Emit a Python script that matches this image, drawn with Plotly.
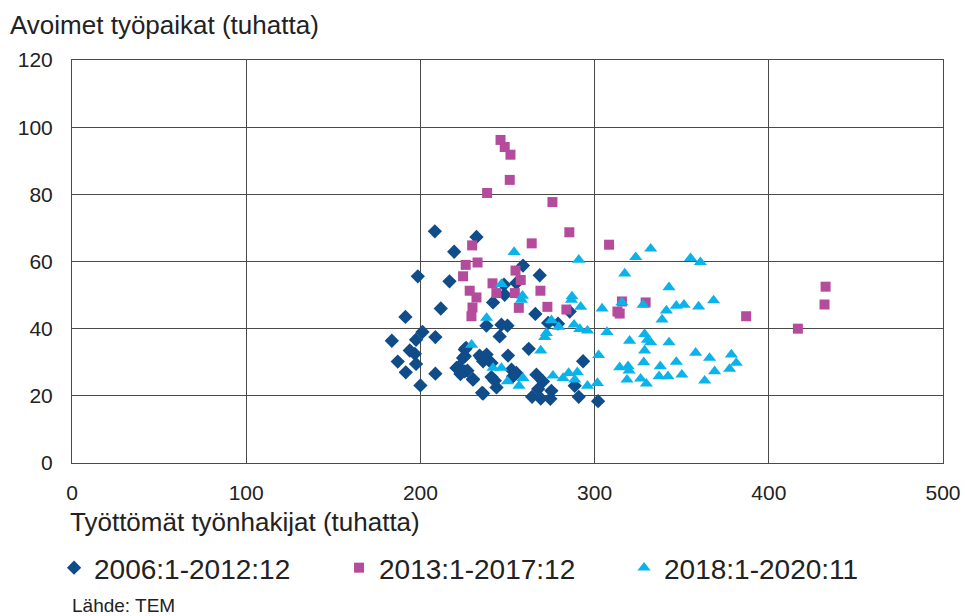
import plotly.graph_objects as go

# ------------------------------------------------------------------ #
# Data (thousands): unemployed job seekers (x) vs open vacancies (y)
# ------------------------------------------------------------------ #
P1_NAME = "2006:1-2012:12"
P1_X = [208.3, 232.2, 219.4, 198.5, 216.7, 211.7, 191.4, 201.2, 183.6, 197.5,
        208.6, 193.9, 196.8, 187.0, 197.5, 191.6, 208.6, 200.0, 226.2, 225.5,
        220.7, 225.5, 230.2, 235.0, 235.4, 238.0, 241.7, 266.0, 237.9, 246.5,
        250.0, 273.3, 279.0, 285.7, 245.5, 262.2, 250.3, 234.0, 236.0, 240.8,
        225.5, 224.5, 222.0, 227.0, 223.0, 230.2, 240.8, 242.7, 243.7, 236.0,
        252.3, 255.1, 253.2, 266.6, 270.4, 267.6, 275.2, 264.1, 269.1, 274.6,
        290.9, 293.4, 288.6, 258.9, 268.5, 248.0, 255.1, 248.4, 302.0]
P1_Y = [69.0, 67.3, 62.9, 55.6, 54.1, 46.0, 43.5, 39.0, 36.4, 36.7,
        37.5, 33.5, 32.5, 30.2, 29.5, 27.0, 26.6, 23.1, 34.3, 31.8,
        28.3, 27.3, 24.8, 31.3, 20.9, 32.3, 47.8, 44.4, 40.9, 41.2,
        40.9, 41.7, 41.5, 45.1, 37.7, 34.0, 32.0, 32.0, 30.3, 29.8,
        33.8, 31.3, 28.6, 27.5, 26.5, 25.0, 25.6, 24.5, 22.5, 20.7,
        27.8, 26.8, 25.8, 26.3, 24.3, 22.0, 21.5, 19.7, 19.2, 19.1,
        19.7, 30.3, 23.0, 58.8, 55.9, 53.1, 53.6, 50.1, 18.4]

P2_NAME = "2013:1-2017:12"
P2_X = [229.7, 232.8, 226.0, 224.5, 228.3, 232.2, 229.9, 229.3, 246.0, 248.4,
        251.7, 251.3, 238.3, 275.8, 285.5, 263.9, 308.3, 254.6, 257.6, 241.4,
        243.6, 254.2, 268.9, 315.7, 329.3, 313.1, 314.4, 387.0, 416.7, 432.6,
        432.0, 256.5, 272.9, 283.8]
P2_Y = [64.8, 59.7, 59.0, 55.6, 51.3, 49.3, 46.3, 43.7, 96.2, 94.1,
        91.8, 84.3, 80.4, 77.7, 68.7, 65.4, 65.0, 57.3, 54.5, 53.5,
        50.6, 50.6, 51.3, 48.1, 47.8, 45.1, 44.5, 43.7, 40.0, 52.5,
        47.2, 46.2, 46.5, 45.7]

P3_NAME = "2018:1-2020:11"
P3_X = [238.0, 229.4, 258.0, 275.2, 279.4, 272.3, 271.4, 288.2, 291.5, 286.7,
        292.0, 269.1, 241.7, 246.5, 250.0, 258.9, 256.6, 276.1, 281.9, 285.1,
        290.1, 288.6, 253.8, 290.9, 246.5, 258.6, 287.0, 332.2, 323.6, 355.1,
        360.7, 317.3, 342.7, 315.7, 327.8, 346.9, 351.3, 359.7, 368.3, 341.2,
        338.7, 304.3, 295.9, 307.1, 328.7, 330.3, 332.2, 320.1, 342.7, 328.7,
        302.3, 358.0, 366.0, 328.2, 314.4, 319.2, 319.8, 337.7, 346.9, 368.9,
        318.6, 326.4, 337.0, 342.1, 350.1, 329.7, 363.2, 295.9, 301.6, 378.5,
        381.3, 377.5]
P3_Y = [43.2, 35.2, 48.6, 42.5, 40.5, 38.7, 37.5, 41.2, 39.9, 48.6,
        46.5, 33.5, 28.3, 28.3, 24.3, 25.3, 23.0, 26.0, 25.3, 26.8,
        27.0, 24.8, 62.8, 60.5, 53.3, 49.8, 49.6, 63.8, 61.3, 61.0,
        59.8, 56.4, 52.3, 47.8, 47.1, 46.8, 47.1, 46.6, 48.4, 45.4,
        42.7, 46.0, 39.4, 39.0, 38.4, 36.7, 35.9, 36.4, 35.9, 33.5,
        32.1, 32.8, 31.3, 30.0, 28.5, 28.8, 27.5, 28.8, 30.1, 27.3,
        24.8, 25.1, 25.8, 25.8, 26.3, 23.6, 24.5, 23.0, 23.8, 32.3,
        29.8, 28.0]

X_TICKS = [0, 100, 200, 300, 400, 500]
Y_TICKS = [0, 20, 40, 60, 80, 100, 120]

Y_TITLE = "Avoimet työpaikat (tuhatta)"
X_TITLE = "Työttömät työnhakijat (tuhatta)"
SOURCE = "Lähde: TEM"

# ------------------------------------------------------------------ #
# Style
# ------------------------------------------------------------------ #
NAVY = "#0F4C89"
MAGENTA = "#B44B9C"
CYAN = "#0AB4EA"
INK = "#222222"
GRID = "#4A4A4A"
FONT = "Liberation Sans, Arial, sans-serif"

fig = go.Figure()
fig.add_trace(go.Scatter(x=P1_X, y=P1_Y, mode="markers", name=P1_NAME,
                         marker=dict(symbol="diamond", size=11, color=NAVY)))
fig.add_trace(go.Scatter(x=P2_X, y=P2_Y, mode="markers", name=P2_NAME,
                         marker=dict(symbol="square", size=10, color=MAGENTA)))
fig.add_trace(go.Scatter(x=P3_X, y=P3_Y, mode="markers", name=P3_NAME,
                         marker=dict(symbol="triangle-up", size=11.5, color=CYAN)))

axis_kw = dict(showgrid=True, gridcolor=GRID, gridwidth=1, zeroline=False,
               showline=True, linecolor=GRID, linewidth=1, mirror=True,
               ticks="", automargin=False,
               tickfont=dict(family=FONT, size=21, color=INK),
               fixedrange=True)

fig.update_layout(
    width=965, height=616,
    margin=dict(l=72, r=22, t=60, b=153),
    paper_bgcolor="white", plot_bgcolor="white",
    font=dict(family=FONT, color=INK),
    xaxis=dict(range=[0, 500], tickvals=X_TICKS, ticklabelstandoff=11, **axis_kw),
    yaxis=dict(range=[0, 120], tickvals=Y_TICKS, ticklabelstandoff=14, **axis_kw),
    showlegend=True,
    legend=dict(orientation="h", x=0.056, xref="container", xanchor="left",
                y=0.078, yref="container", yanchor="middle",
                font=dict(family=FONT, size=28, color=INK),
                entrywidth=240, entrywidthmode="pixels",
                itemwidth=30, bgcolor="rgba(0,0,0,0)"),
    annotations=[
        dict(text=Y_TITLE, xref="paper", yref="paper", x=0, y=1,
             xshift=-64, yshift=18, xanchor="left", yanchor="bottom",
             showarrow=False, font=dict(family=FONT, size=26, color=INK)),
        dict(text=X_TITLE, xref="paper", yref="paper", x=0, y=0,
             xshift=-4, yshift=-59, xanchor="left", yanchor="middle",
             showarrow=False, font=dict(family=FONT, size=26, color=INK)),
        dict(text=SOURCE, xref="paper", yref="paper", x=0, y=0,
             xshift=-2, yshift=-142, xanchor="left", yanchor="middle",
             showarrow=False, font=dict(family=FONT, size=19, color=INK)),
    ],
)

# drop the default page margin so the figure sits at the window's corner
fig.write_html("out.html",
               config=dict(displayModeBar=False),
               post_script="document.body.style.margin='0';"
                           "document.body.style.overflow='hidden';")
